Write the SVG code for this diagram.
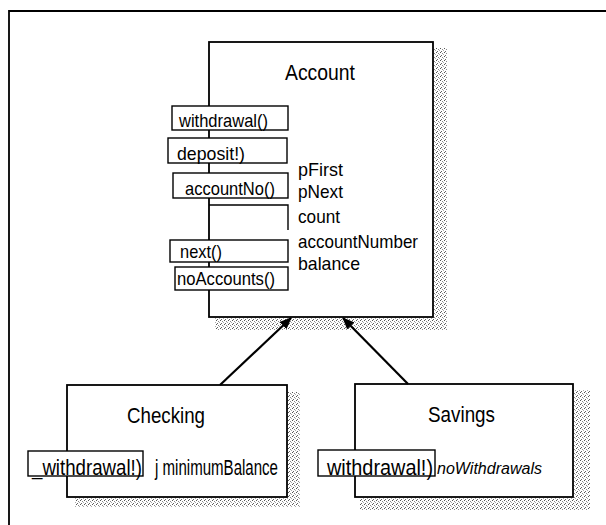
<svg xmlns="http://www.w3.org/2000/svg" width="606" height="525" viewBox="0 0 606 525">
<style>
.box{fill:#fff;stroke:#000;stroke-width:1.8}
.mbox{fill:#fff;stroke:#000;stroke-width:1.4}
.t{font-family:"Liberation Sans",Arial,sans-serif;fill:#000}
.title{font-size:22px}
.m{font-size:19px}
.a{font-size:19px}
.conn{stroke:#000;stroke-width:2.2;fill:none}
.shadow{fill:url(#dots)}
</style>
<defs>
<pattern id="dots" width="4" height="4" patternUnits="userSpaceOnUse">
<rect x="0" y="0" width="1" height="1" fill="#555"/>
<rect x="2" y="1" width="1" height="1" fill="#888"/>
<rect x="1" y="3" width="1" height="1" fill="#666"/>
<rect x="3" y="2" width="1" height="1" fill="#aaa"/>
</pattern>
<marker id="arr" viewBox="0 0 12 10" refX="11" refY="5" markerWidth="12" markerHeight="10" markerUnits="userSpaceOnUse" orient="auto">
<path d="M0,0 L12,5 L0,10 z" fill="#000"/>
</marker>
</defs>
<rect width="606" height="525" fill="#fff"/>
<path d="M9,525 V11 H606" fill="none" stroke="#000" stroke-width="1.8"/>

<g id="account">
<rect class="shadow" x="434" y="48" width="13" height="282"/>
<rect class="shadow" x="215" y="318" width="232" height="12"/>
<rect class="box" x="209" y="42" width="224" height="275"/>
<text class="t title" x="285" y="80" textLength="70" lengthAdjust="spacingAndGlyphs">Account</text>
<rect class="mbox" x="172" y="106" width="116" height="24"/>
<text class="t m" x="179" y="127" textLength="89" lengthAdjust="spacingAndGlyphs">withdrawal()</text>
<rect class="mbox" x="168" y="138" width="119" height="25"/>
<text class="t m" x="177" y="160" textLength="68" lengthAdjust="spacingAndGlyphs">deposit!)</text>
<rect class="mbox" x="173" y="173" width="115" height="25"/>
<text class="t m" x="185" y="195" textLength="90" lengthAdjust="spacingAndGlyphs">accountNo()</text>
<path d="M209,205 H288 V230" fill="none" stroke="#000" stroke-width="1.4"/>
<rect class="mbox" x="170" y="240" width="118" height="22"/>
<text class="t m" x="180" y="258" textLength="42" lengthAdjust="spacingAndGlyphs">next()</text>
<rect class="mbox" x="175" y="267" width="113" height="23"/>
<text class="t m" x="177" y="285" textLength="98" lengthAdjust="spacingAndGlyphs">noAccounts()</text>
<text class="t a" x="298" y="176" textLength="45" lengthAdjust="spacingAndGlyphs">pFirst</text>
<text class="t a" x="298" y="198" textLength="45" lengthAdjust="spacingAndGlyphs">pNext</text>
<text class="t a" x="298" y="223" textLength="42" lengthAdjust="spacingAndGlyphs">count</text>
<text class="t a" x="298" y="248" textLength="120" lengthAdjust="spacingAndGlyphs">accountNumber</text>
<text class="t a" x="298" y="270" textLength="62" lengthAdjust="spacingAndGlyphs">balance</text>
</g>

<g id="checking">
<rect class="shadow" x="288" y="392" width="12" height="115"/>
<rect class="shadow" x="75" y="498" width="225" height="9"/>
<rect class="box" x="67" y="385" width="220" height="112"/>
<text class="t title" x="127" y="423" textLength="78" lengthAdjust="spacingAndGlyphs">Checking</text>
<rect class="mbox" x="28" y="451" width="115" height="25"/>
<text class="t title" x="32" y="475" textLength="110" lengthAdjust="spacingAndGlyphs">_withdrawal!)</text>
<text class="t title" x="155" y="475" textLength="123" lengthAdjust="spacingAndGlyphs">j minimumBalance</text>
</g>

<g id="savings">
<rect class="shadow" x="574" y="390" width="16" height="120"/>
<rect class="shadow" x="360" y="498" width="230" height="12"/>
<rect class="box" x="355" y="384" width="218" height="113"/>
<text class="t title" x="428" y="422" textLength="67" lengthAdjust="spacingAndGlyphs">Savings</text>
<rect class="mbox" x="318" y="450" width="117" height="26"/>
<text class="t title" x="327" y="475" textLength="106" lengthAdjust="spacingAndGlyphs">withdrawal!)</text>
<text class="t" x="437" y="474" font-size="16" font-style="italic" textLength="105" lengthAdjust="spacingAndGlyphs">noWithdrawals</text>
</g>

<g id="connectors">
<line class="conn" x1="220" y1="385" x2="291" y2="318" marker-end="url(#arr)"/>
<line class="conn" x1="408" y1="384" x2="343" y2="318" marker-end="url(#arr)"/>
</g>
</svg>
